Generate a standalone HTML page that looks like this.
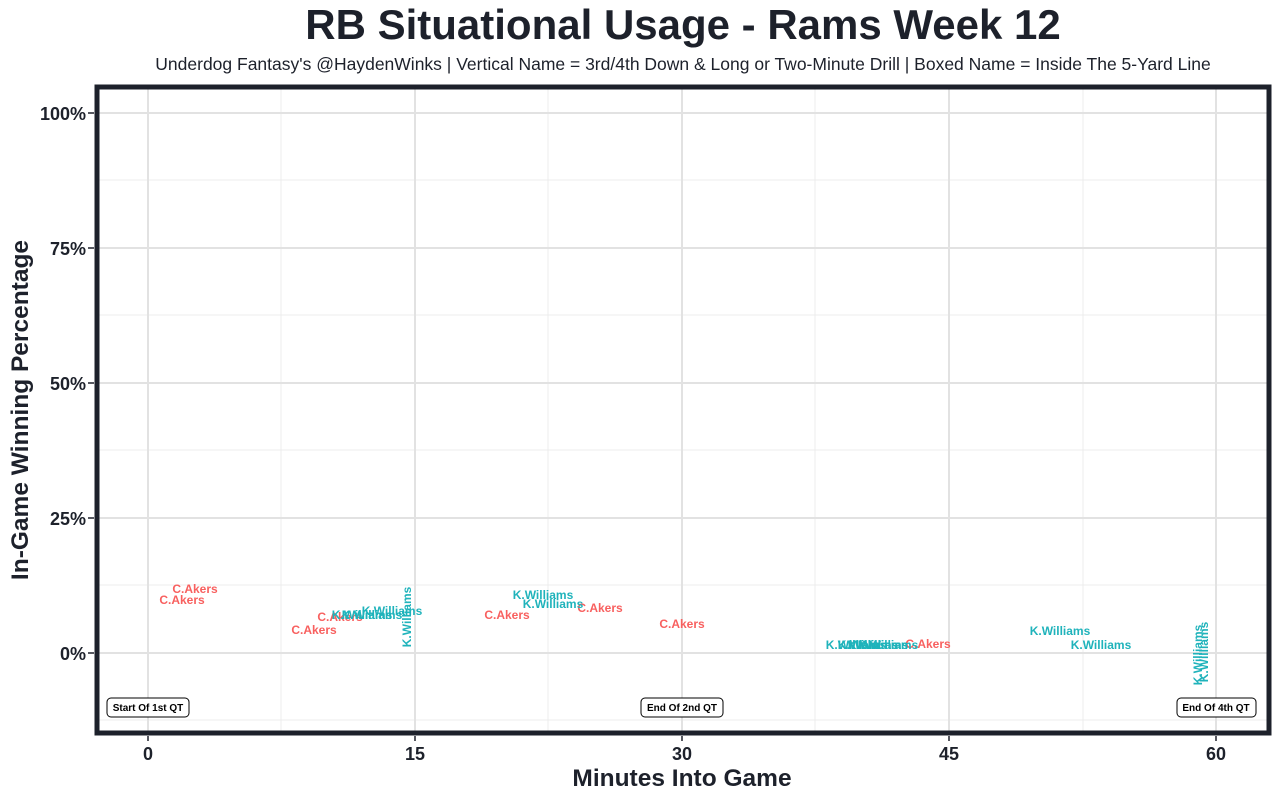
<!DOCTYPE html><html><head><style>body{margin:0;background:#fff}</style></head><body>
<svg width="1280" height="800" xmlns="http://www.w3.org/2000/svg" font-family="Liberation Sans, Arial, sans-serif">
<rect width="1280" height="800" fill="#fff"/>
<text x="683" y="39" text-anchor="middle" font-size="42" font-weight="bold" fill="#1d212b">RB Situational Usage - Rams Week 12</text>
<text x="683" y="70" text-anchor="middle" font-size="17.5" fill="#1d212b">Underdog Fantasy's @HaydenWinks | Vertical Name = 3rd/4th Down &amp; Long or Two-Minute Drill | Boxed Name = Inside The 5-Yard Line</text>
<g stroke="#ececec" stroke-width="1">
<line x1="98" x2="1268" y1="180" y2="180"/><line x1="98" x2="1268" y1="315" y2="315"/><line x1="98" x2="1268" y1="450" y2="450"/><line x1="98" x2="1268" y1="585" y2="585"/><line x1="98" x2="1268" y1="720" y2="720"/>
<line y1="88" y2="732" x1="281" x2="281"/><line y1="88" y2="732" x1="548" x2="548"/><line y1="88" y2="732" x1="815" x2="815"/><line y1="88" y2="732" x1="1083" x2="1083"/>
</g>
<g stroke="#e2e2e2" stroke-width="2">
<line x1="98" x2="1268" y1="113" y2="113"/><line x1="98" x2="1268" y1="248" y2="248"/><line x1="98" x2="1268" y1="383" y2="383"/><line x1="98" x2="1268" y1="518" y2="518"/><line x1="98" x2="1268" y1="653" y2="653"/>
<line y1="88" y2="732" x1="148" x2="148"/><line y1="88" y2="732" x1="415" x2="415"/><line y1="88" y2="732" x1="682" x2="682"/><line y1="88" y2="732" x1="949" x2="949"/><line y1="88" y2="732" x1="1216" x2="1216"/>
</g>
<rect x="97" y="87" width="1172" height="646" fill="none" stroke="#1d212b" stroke-width="5"/>
<g font-size="18" font-weight="bold" fill="#1d212b" text-anchor="end">
<text x="86" y="120">100%</text><text x="86" y="255">75%</text><text x="86" y="390">50%</text><text x="86" y="525">25%</text><text x="86" y="660">0%</text>
</g>
<g stroke="#1d212b" stroke-width="1.5"><line x1="88" x2="94" y1="113" y2="113"/><line x1="88" x2="94" y1="248" y2="248"/><line x1="88" x2="94" y1="383" y2="383"/><line x1="88" x2="94" y1="518" y2="518"/><line x1="88" x2="94" y1="653" y2="653"/>
<line x1="148" x2="148" y1="736" y2="741"/><line x1="415" x2="415" y1="736" y2="741"/><line x1="682" x2="682" y1="736" y2="741"/><line x1="949" x2="949" y1="736" y2="741"/><line x1="1216" x2="1216" y1="736" y2="741"/></g>
<g font-size="18" font-weight="bold" fill="#1d212b" text-anchor="middle">
<text x="148" y="760">0</text><text x="415" y="760">15</text><text x="682" y="760">30</text><text x="949" y="760">45</text><text x="1216" y="760">60</text>
</g>
<text x="682" y="786" text-anchor="middle" font-size="24.5" font-weight="bold" fill="#1d212b">Minutes Into Game</text>
<text transform="translate(28,410) rotate(-90)" text-anchor="middle" font-size="24.5" font-weight="bold" fill="#1d212b">In-Game Winning Percentage</text>
<g font-size="12" font-weight="bold" fill="#f8605f" text-anchor="middle">
<text x="195" y="593">C.Akers</text><text x="182" y="604">C.Akers</text><text x="340" y="621">C.Akers</text><text x="314" y="634">C.Akers</text><text x="507" y="619">C.Akers</text><text x="600" y="612">C.Akers</text><text x="682" y="628">C.Akers</text><text x="928" y="648">C.Akers</text>
</g>
<g font-size="12" font-weight="bold" fill="#1fb3bb" text-anchor="middle">
<text x="543" y="599">K.Williams</text><text x="553" y="608">K.Williams</text><text x="392" y="615">K.Williams</text><text x="372" y="619">K.Williams</text><text x="362" y="619">K.Williams</text>
<text x="856" y="649">K.Williams</text><text x="868" y="649">K.Williams</text><text x="878" y="649">K.Williams</text><text x="888" y="649">K.Williams</text>
<text x="1060" y="635">K.Williams</text><text x="1101" y="649">K.Williams</text>
<text transform="translate(411,617) rotate(-90)">K.Williams</text>
<text transform="translate(1202,655) rotate(-90)">K.Williams</text><text transform="translate(1208,652) rotate(-90)">K.Williams</text>
</g>
<g font-size="10" font-weight="bold" fill="#000" text-anchor="middle">
<rect x="107" y="698" width="82" height="19" rx="4" fill="#fff" stroke="#000"/><text x="148" y="711">Start Of 1st QT</text>
<rect x="641" y="698" width="82" height="19" rx="4" fill="#fff" stroke="#000"/><text x="682" y="711">End Of 2nd QT</text>
<rect x="1177" y="698" width="79" height="19" rx="4" fill="#fff" stroke="#000"/><text x="1216" y="711">End Of 4th QT</text>
</g>
</svg>
</body></html>
